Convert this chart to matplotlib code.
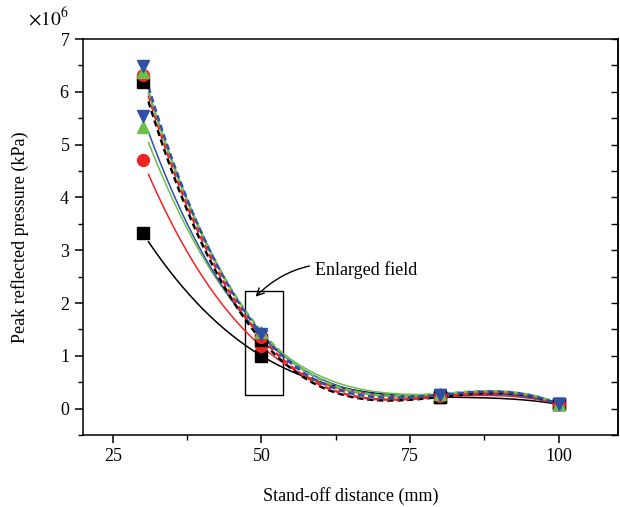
import matplotlib.pyplot as plt
import numpy as np
from matplotlib.patches import Rectangle
from matplotlib.ticker import MultipleLocator, ScalarFormatter

plt.rcParams['font.family'] = ['Liberation Serif', 'DejaVu Serif']
plt.rcParams['mathtext.fontset'] = 'stix'

# stand-off distance (mm)
dist = [30, 50, 80, 100]
colors = ['black', '#ee2424', '#6cbf4a', '#2f4fa6']
markers = ['s', 'o', '^', 'v']

# peak reflected pressure (kPa), solid-line group
solid_vals = [
    [3.33e6, 1.00e6, 0.22e6, 0.08e6],
    [4.70e6, 1.18e6, 0.23e6, 0.08e6],
    [5.33e6, 1.40e6, 0.27e6, 0.09e6],
    [5.55e6, 1.38e6, 0.25e6, 0.08e6],
]
# dashed-line group
dash_vals = [
    [6.19e6, 1.30e6, 0.22e6, 0.08e6],
    [6.31e6, 1.35e6, 0.23e6, 0.08e6],
    [6.38e6, 1.46e6, 0.28e6, 0.09e6],
    [6.48e6, 1.42e6, 0.26e6, 0.08e6],
]

fig = plt.figure(figsize=(6.2, 5.07), dpi=100)
ax = fig.add_axes([0.134, 0.142, 0.863, 0.781])

xs = np.linspace(31, 100, 300)
for vals, c, m in zip(solid_vals, colors, markers):
    coef = np.polyfit(dist, vals, 3)
    ax.plot(xs, np.polyval(coef, xs), color=c, lw=1.1)
for vals, c, m in zip(dash_vals, colors, markers):
    coef = np.polyfit(dist, vals, 3)
    ax.plot(xs, np.polyval(coef, xs), color=c, lw=1.8, ls=(0, (2.5, 1.5)))
for vals, c, m in zip(solid_vals, colors, markers):
    ax.plot(dist, vals, ls='none', marker=m, color=c, ms=8.5)
for vals, c, m in zip(dash_vals, colors, markers):
    ax.plot(dist, vals, ls='none', marker=m, color=c, ms=8.5)

ax.add_patch(Rectangle((47.3, 0.25e6), 6.3, 1.97e6, fill=False, ec='black', lw=1.0))
ax.annotate('Enlarged field', xy=(49.0, 2.12e6), xytext=(59.0, 2.63e6),
            fontsize=13, va='center',
            arrowprops=dict(arrowstyle='->', color='black', lw=1.0,
                            connectionstyle='arc3,rad=0.3', shrinkA=2, shrinkB=0))

ax.set_xlim(20, 110)
ax.set_ylim(-0.5e6, 7e6)
ax.xaxis.set_major_locator(MultipleLocator(25))
ax.xaxis.set_minor_locator(MultipleLocator(12.5))
ax.yaxis.set_major_locator(MultipleLocator(1e6))
ax.yaxis.set_minor_locator(MultipleLocator(0.5e6))
fmt = ScalarFormatter(useMathText=True)
fmt.set_powerlimits((0, 0))
ax.yaxis.set_major_formatter(fmt)
ax.yaxis.get_offset_text().set_visible(False)
fig.text(28 / 620, 1 - 18 / 507, r'$\times10^6$', fontsize=14, va='center', ha='left')

ax.tick_params(which='major', direction='out', length=6, width=1.1, labelsize=13)
ax.tick_params(which='minor', direction='out', length=3.5, width=1.0)
ax.tick_params(which='both', top=False, right=False)
# right side ticks pointing inward
ax.tick_params(axis='y', which='both', right=True, direction='out')
ax.yaxis.set_tick_params(which='major', right=True)
for s in ax.spines.values():
    s.set_linewidth(1.1)

sec = ax.secondary_yaxis('right')
sec.yaxis.set_major_locator(MultipleLocator(1e6))
sec.yaxis.set_minor_locator(MultipleLocator(0.5e6))
sec.tick_params(which='both', direction='in', length=5, width=1.0, labelright=False)
sec.spines['right'].set_linewidth(1.1)
ax.tick_params(axis='y', which='both', right=False)

ax.set_xlabel('Stand-off distance (mm)', fontsize=13, labelpad=16)
ax.set_ylabel('Peak reflected pressure (kPa)', fontsize=13, labelpad=22)

fig.savefig('out.png', dpi=100)
